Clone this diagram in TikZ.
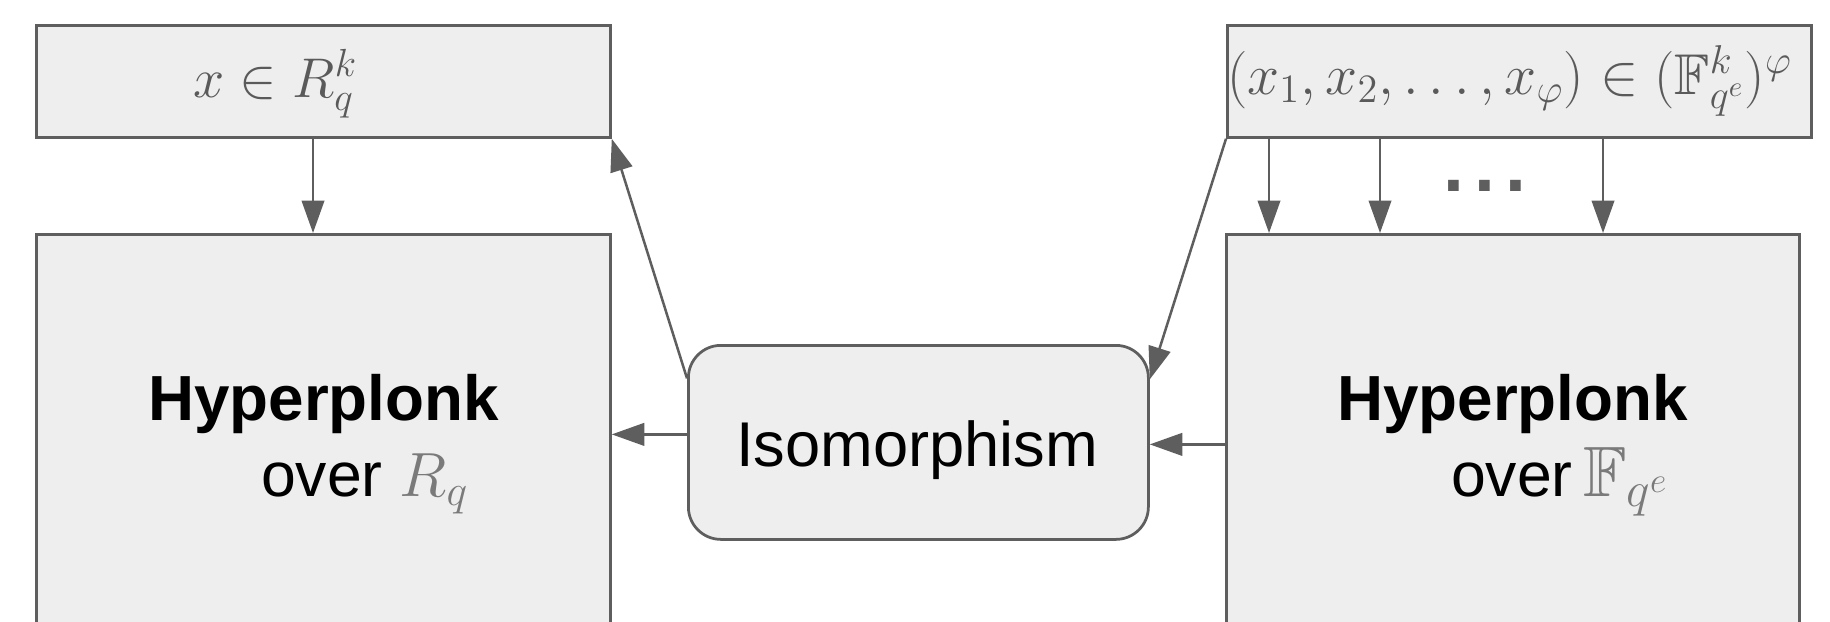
\RequirePackage{fix-cm}
\documentclass[tikz,border=0pt]{standalone}
\usepackage{fontspec}
\usepackage{amssymb}
\setmainfont{Liberation Sans}
\usetikzlibrary{arrows.meta}
\definecolor{edgegray}{HTML}{5E5E5E}
\definecolor{boxfill}{HTML}{EEEEEE}
\definecolor{mathgray}{HTML}{5A5A5A}
\definecolor{mathlight}{HTML}{7A7A7A}
\tikzset{
  plainbox/.style={draw=edgegray, fill=boxfill, line width=1.1pt, inner sep=0pt, anchor=north west},
  isobox/.style={plainbox, rounded corners=13pt},
  arr/.style={draw=edgegray, line width=1pt, -{Triangle[length=13pt,width=9pt]}},
  lbl/.style={inner sep=0pt, outer sep=0pt},
}
\begin{document}
\begin{tikzpicture}[x=0.4pt,y=-0.4pt]
\useasboundingbox (0,0) rectangle (1830,621);
\clip (0,0) rectangle (1830,621);
\fill[white] (0,0) rectangle (1830,621);
% boxes
\node[plainbox, minimum width=229.6pt, minimum height=44.8pt] (tl) at (35,24) {};
\node[plainbox, minimum width=229.6pt, minimum height=178.8pt] (lb) at (35,233) {};
\node[isobox, minimum width=184pt, minimum height=77.6pt] (iso) at (687,344) {};
\node[plainbox, minimum width=233.6pt, minimum height=44.8pt] (rt) at (1226,24) {};
\node[plainbox, minimum width=229.2pt, minimum height=178.8pt] (rb) at (1225,233) {};
% texts
\node[lbl, anchor=base west] (tltxt) at (193,97) {\fontsize{22.4}{26}\selectfont\color{mathgray}$x\in R_q^k$};
\node[lbl, anchor=base west] (rttxt) at (1227,94) {\fontsize{23}{26}\selectfont\color{mathgray}$(x_1,x_2,\ldots,x_\varphi)\in(\mathbb{F}^k_{q^e})^\varphi$};
\node[lbl, anchor=base] (h1) at (323.5,420) {\fontsize{25.5}{30}\selectfont\bfseries Hyperplonk};
\node[lbl, anchor=base west] (o1) at (261,496) {\fontsize{25}{30}\selectfont over \textcolor{mathlight}{$R_q$}};
\node[lbl, anchor=base] (h2) at (1512.5,420) {\fontsize{25.5}{30}\selectfont\bfseries Hyperplonk};
\node[lbl, anchor=base west] (o2) at (1451,496) {\fontsize{25}{30}\selectfont over\,\textcolor{mathlight}{\fontsize{28.5}{32}\selectfont$\mathbb{F}_{q^e}$}};
\node[lbl, anchor=base] (isotxt) at (917,466) {\fontsize{25.3}{30}\selectfont Isomorphism};
\node[lbl, anchor=base] (dots) at (1485,191) {\fontsize{30}{32}\selectfont\bfseries\color{edgegray}.\hspace{4pt}.\hspace{4pt}.};
% connectors
\draw[arr] ([xshift=111.2pt]tl.south west) coordinate (a1) -- (a1 |- lb.north);
\coordinate (p1) at ([yshift=3.2pt]iso.west);
\draw[arr] (p1) -- (p1 -| lb.east);
\draw[arr] ([yshift=25.6pt]iso.west) -- (tl.south east);
\draw[arr] (rt.south west) -- ([yshift=25.2pt]iso.east);
\coordinate (p2) at ([yshift=-0.8pt]iso.east);
\draw[arr] (p2 -| rb.west) -- (p2);
\draw[arr] ([xshift=17.2pt]rt.south west) coordinate (s1) -- (s1 |- rb.north);
\draw[arr] ([xshift=61.6pt]rt.south west) coordinate (s2) -- (s2 |- rb.north);
\draw[arr] ([xshift=150.8pt]rt.south west) coordinate (s3) -- (s3 |- rb.north);
\end{tikzpicture}
\end{document}
